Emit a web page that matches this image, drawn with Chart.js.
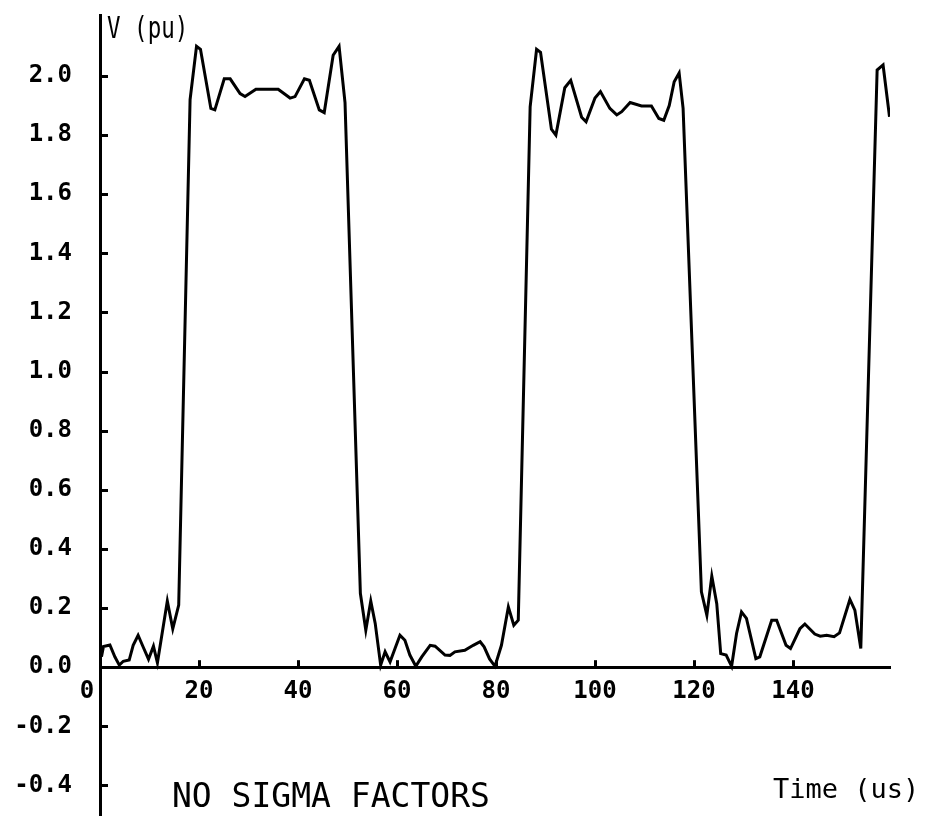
<!DOCTYPE html>
<html>
<head>
<meta charset="utf-8">
<script src="https://cdn.jsdelivr.net/npm/chart.js@4/dist/chart.umd.min.js"></script>
<style>
  html, body { margin: 0; padding: 0; background: #ffffff; }
  #wrap { width: 926px; height: 818px; position: relative; }
</style>
</head>
<body>
<div id="wrap"><canvas id="c" width="926" height="818"></canvas></div>
<script>
// Time (us) and voltage (pu)
const timeUs = [
  0.3, 0.7, 2.0, 3.0, 3.9, 4.7, 5.9, 6.7, 7.7, 8.7, 9.8, 10.8, 11.6, 13.6, 14.7, 15.9,
  18.2, 19.5, 20.3, 22.4, 23.2, 25.1, 26.3, 28.3, 29.3, 31.5, 36.0, 38.4, 39.4, 41.3, 42.3,
  44.3, 45.3, 47.1, 48.3, 49.5,
  52.6, 53.7, 54.7, 55.6, 56.7, 57.6, 58.6, 59.6, 60.6, 61.6, 62.6, 63.8, 65.0, 66.7, 67.7,
  69.7, 70.7, 71.7, 73.7, 75.4, 76.8, 77.6, 78.7, 79.8, 81.1, 82.5, 83.6, 84.5,
  86.9, 88.2, 89.0, 91.2, 92.1, 93.9, 95.1, 97.3, 98.2, 100.0, 101.1, 103.0, 104.4, 105.4,
  107.1, 109.4, 111.4, 112.9, 113.9, 115.0, 116.0, 117.0, 117.8,
  121.5, 122.6, 123.6, 124.6, 125.4, 126.5, 127.6, 128.6, 129.6, 130.6, 132.5, 133.3,
  135.7, 136.7, 138.6, 139.5, 141.4, 142.4, 144.4, 145.5, 146.8, 148.3, 149.4, 151.5,
  152.5, 153.7, 157.0, 158.2, 159.5
];
const voltagePu = [
  0.035, 0.07, 0.075, 0.035, 0.007, 0.02, 0.024, 0.074, 0.108, 0.069, 0.027, 0.071, 0.015, 0.224, 0.13, 0.21,
  1.92, 2.10, 2.09, 1.89, 1.885, 1.99, 1.99, 1.94, 1.93, 1.955, 1.955, 1.925, 1.93, 1.99, 1.985,
  1.885, 1.876, 2.07, 2.10, 1.91,
  0.25, 0.125, 0.224, 0.148, 0.007, 0.052, 0.018, 0.063, 0.108, 0.091, 0.041, 0.003, 0.035, 0.074, 0.071,
  0.041, 0.04, 0.052, 0.057, 0.074, 0.086, 0.069, 0.028, 0.003, 0.074, 0.204, 0.142, 0.159,
  1.895, 2.09, 2.08, 1.82, 1.80, 1.96, 1.985, 1.86, 1.845, 1.925, 1.947, 1.89, 1.868, 1.879,
  1.91, 1.898, 1.898, 1.856, 1.85, 1.90, 1.98, 2.01, 1.89,
  0.255, 0.176, 0.308, 0.215, 0.046, 0.041, 0.003, 0.114, 0.187, 0.165, 0.029, 0.035,
  0.159, 0.159, 0.074, 0.063, 0.13, 0.146, 0.112, 0.105, 0.108, 0.103, 0.116, 0.229,
  0.193, 0.063, 2.02, 2.037, 1.862
];
const xTickValues = [0, 20, 40, 60, 80, 100, 120, 140];
const yTickValues = [-0.4, -0.2, 0.0, 0.2, 0.4, 0.6, 0.8, 1.0, 1.2, 1.4, 1.6, 1.8, 2.0];
const yAxisTitle = "V (pu)";
const xAxisTitle = "Time (us)";
const caption = "NO SIGMA FACTORS";

const points = timeUs.map((t, i) => ({ x: t, y: voltagePu[i] }));

const TICK_FONT = { family: "'DejaVu Sans Mono', monospace", size: 24, weight: 'bold', lineHeight: 1.2 };
const X_LABEL_PAD = 10;

const overlay = {
  id: 'overlay',
  afterDraw(chart) {
    const ctx = chart.ctx;
    const xs = chart.scales.x, ys = chart.scales.y;
    const x0 = xs.getPixelForValue(0);
    const y0 = ys.getPixelForValue(0);
    ctx.save();
    ctx.strokeStyle = '#000';
    ctx.lineWidth = 3;
    ctx.lineCap = 'butt';
    ys.ticks.forEach(t => {
      if (t.value === 0) return;
      const y = Math.round(ys.getPixelForValue(t.value)) + 0.5;
      ctx.beginPath(); ctx.moveTo(x0, y); ctx.lineTo(x0 + 8, y); ctx.stroke();
    });
    xs.ticks.forEach(t => {
      if (t.value === 0) return;
      const x = Math.round(xs.getPixelForValue(t.value)) + 0.5;
      ctx.beginPath(); ctx.moveTo(x, y0); ctx.lineTo(x, y0 - 7); ctx.stroke();
    });
    ctx.fillStyle = '#000';
    // "0" label of the time axis, set left of the vertical axis
    ctx.font = "bold 24px 'DejaVu Sans Mono', monospace";
    ctx.textAlign = 'center';
    ctx.textBaseline = 'middle';
    ctx.fillText(String(xTickValues[0]), x0 - 13, y0 + X_LABEL_PAD + 24 * 1.2 / 2);
    // axis titles & caption
    ctx.textAlign = 'left';
    ctx.textBaseline = 'alphabetic';
    ctx.save();
    ctx.translate(x0 + 7, 38);
    ctx.scale(0.75, 1);
    ctx.font = "30px 'DejaVu Sans Mono', monospace";
    ctx.fillText(yAxisTitle, 0, 0);
    ctx.restore();
    ctx.font = "27px 'DejaVu Sans Mono', monospace";
    ctx.fillText(xAxisTitle, 773, 798);
    ctx.font = "33px 'DejaVu Sans Mono', monospace";
    ctx.fillText(caption, 172, 807);
    ctx.restore();
  }
};

new Chart(document.getElementById('c'), {
  type: 'line',
  data: {
    datasets: [{
      data: points,
      borderColor: '#000',
      borderWidth: 3,
      pointRadius: 0,
      tension: 0,
      fill: false
    }]
  },
  options: {
    responsive: false,
    animation: false,
    devicePixelRatio: 1,
    layout: { padding: { top: 15, right: 36, bottom: 3, left: 0 } },
    plugins: { legend: { display: false }, tooltip: { enabled: false } },
    scales: {
      x: {
        type: 'linear',
        position: { y: 0 },
        min: 0,
        max: 159.6,
        afterBuildTicks: s => { s.ticks = xTickValues.map(v => ({ value: v })); },
        afterFit: s => { s.paddingLeft = 0; s.paddingRight = 0; },
        grid: { display: false, drawTicks: false },
        border: { display: true, color: '#000', width: 3 },
        ticks: {
          color: '#000',
          font: TICK_FONT,
          padding: X_LABEL_PAD,
          maxRotation: 0,
          autoSkip: false,
          callback: v => (v === 0 ? '' : String(v))
        }
      },
      y: {
        type: 'linear',
        position: 'left',
        min: -0.5,
        max: 2.206,
        afterBuildTicks: s => { s.ticks = yTickValues.map(v => ({ value: v })); },
        afterFit: s => { s.width = 100; s.paddingTop = 0; s.paddingBottom = 0; },
        grid: { display: false, drawTicks: false },
        border: { display: true, color: '#000', width: 3 },
        ticks: {
          color: '#000',
          font: TICK_FONT,
          padding: 28,
          autoSkip: false,
          callback: v => Number(v).toFixed(1)
        }
      }
    }
  },
  plugins: [overlay]
});
</script>
</body>
</html>
